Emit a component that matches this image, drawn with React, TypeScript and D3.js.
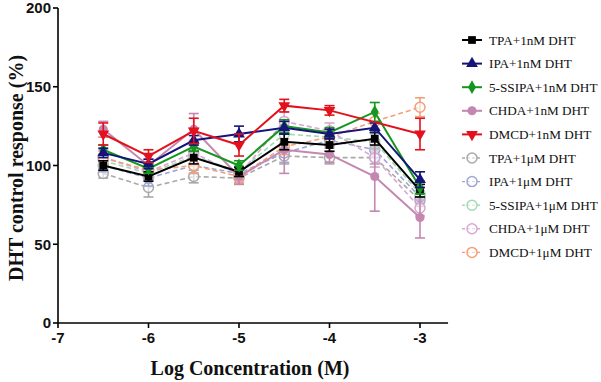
import React from "react";
import * as d3 from "d3";

const xVals = [-6.5, -6, -5.5, -5, -4.5, -4, -3.5, -3];
const xTicks = [-7, -6, -5, -4, -3];
const yTicks = [0, 50, 100, 150, 200];

const seriesNames = [
  "TPA+1nM DHT",
  "IPA+1nM DHT",
  "5-SSIPA+1nM DHT",
  "CHDA+1nM DHT",
  "DMCD+1nM DHT",
  "TPA+1\u03bcM DHT",
  "IPA+1\u03bcM DHT",
  "5-SSIPA+1\u03bcM DHT",
  "CHDA+1\u03bcM DHT",
  "DMCD+1\u03bcM DHT",
];

const tpa1n = [100, 93, 105, 96, 115, 113, 117, 84];
const ipa1n = [108, 101, 116, 120, 124, 120, 124, 91];
const sspa1n = [110, 98, 112, 100, 125, 121, 134, 86];
const chda1n = [123, 100, 123, 93, 110, 107, 93, 67];
const dmcd1n = [120, 106, 122, 113, 138, 135, null, 120];
const tpa1u = [95, 86, 93, 92, 106, 105, 105, 78];
const ipa1u = [100, 92, 100, 95, 108, 116, 110, 80];
const sspa1u = [103, 95, 106, 96, 120, 118, 115, 82];
const chda1u = [105, 96, 108, 94, 128, 122, 105, 73];
const dmcd1u = [105, 97, 100, 93, 112, 118, 128, 137];

const tpa1nErr = [3, 3, 4, 3, 5, 4, 4, 4];
const ipa1nErr = [3, 3, 3, 5, 4, 3, 3, 5];
const sspa1nErr = [3, 3, 3, 3, 4, 3, 6, 4];
const chda1nErr = [5, 4, 10, 5, 15, 5, 22, 13];
const dmcd1nErr = [7, 4, 8, 7, 4, 3, 0, 10];
const tpa1uErr = [3, 6, 4, 3, 5, 4, 4, 4];
const ipa1uErr = [4, 5, 5, 4, 6, 5, 5, 4];
const sspa1uErr = [4, 4, 5, 4, 5, 4, 5, 4];
const chda1uErr = [5, 5, 8, 5, 6, 5, 6, 5];
const dmcd1uErr = [4, 4, 5, 4, 5, 5, 5, 6];

const allValues = [tpa1n, ipa1n, sspa1n, chda1n, dmcd1n, tpa1u, ipa1u, sspa1u, chda1u, dmcd1u];
const allErrs = [tpa1nErr, ipa1nErr, sspa1nErr, chda1nErr, dmcd1nErr, tpa1uErr, ipa1uErr, sspa1uErr, chda1uErr, dmcd1uErr];
const colors = ["#000000", "#14147a", "#15961e", "#c487b0", "#e3111b", "#a9a9a9", "#9ea6d6", "#a6d9b2", "#d9a6d6", "#f2a07a"];
const shapes = ["square", "triangle", "diamond", "circle", "triangleDown", "open", "open", "open", "open", "open"];
const drawOrder = [5, 6, 7, 8, 9, 3, 0, 2, 1, 4];

function Marker({ shape, color, cx, cy }: { shape: string; color: string; cx: number; cy: number }) {
  const sym: Record<string, any> = {
    square: d3.symbolSquare,
    triangle: d3.symbolTriangle,
    diamond: d3.symbolDiamond,
    circle: d3.symbolCircle,
    triangleDown: d3.symbolTriangle,
  };
  if (shape === "open") {
    return <circle cx={cx} cy={cy} r={5} fill="white" fillOpacity={0.6} stroke={color} strokeWidth={1.5} />;
  }
  const size = shape === "diamond" ? 55 : shape === "circle" ? 65 : 60;
  const p = d3.symbol().type(sym[shape]).size(size)();
  const rot = shape === "triangleDown" ? " rotate(180)" : "";
  return <path d={p || ""} transform={`translate(${cx},${cy})${rot}`} fill={color} />;
}

export default function App() {
  const W = 601, H = 382;
  const x = d3.scaleLinear().domain([-7, -3]).range([58, 420]);
  const y = d3.scaleLinear().domain([0, 200]).range([323, 8]);
  const xEnd = x(-2.69);

  const line = d3
    .line<[number, number | null]>()
    .defined((d) => d[1] !== null)
    .x((d) => x(d[0]))
    .y((d) => y(d[1] as number));

  const legendY = (i: number) => 40 + i * 23.6;

  return (
    <svg width={W} height={H} style={{ position: "absolute", left: 0, top: 0, background: "white" }}>
      {drawOrder.map((si) => {
        const vals = allValues[si];
        const errs = allErrs[si];
        const pts = xVals.map((xv, i) => [xv, vals[i]] as [number, number | null]).filter((d) => d[1] !== null);
        const dashed = si >= 5;
        const color = colors[si];
        return (
          <g key={si}>
            <path
              d={line(pts) || ""}
              fill="none"
              stroke={color}
              strokeWidth={dashed ? 1.6 : 2}
              strokeDasharray={dashed ? "5,3" : undefined}
            />
            {xVals.map((xv, i) => {
              const v = vals[i];
              if (v === null) return null;
              const e = errs[i];
              const cx = x(xv);
              return (
                <g key={i}>
                  {e > 0 && (
                    <g stroke={color} strokeWidth={1.6}>
                      <line x1={cx} x2={cx} y1={y(v - e)} y2={y(v + e)} />
                      <line x1={cx - 5} x2={cx + 5} y1={y(v + e)} y2={y(v + e)} />
                      <line x1={cx - 5} x2={cx + 5} y1={y(v - e)} y2={y(v - e)} />
                    </g>
                  )}
                  <Marker shape={shapes[si]} color={color} cx={cx} cy={y(v)} />
                </g>
              );
            })}
          </g>
        );
      })}

      <g>
        <line x1={58} x2={58} y1={y(200)} y2={y(0)} stroke="#000" strokeWidth={1.6} />
        {yTicks.map((t) => (
          <g key={t}>
            <line x1={53} x2={58} y1={y(t)} y2={y(t)} stroke="#000" strokeWidth={1.6} />
            <text
              x={51}
              y={y(t)}
              dy="0.36em"
              textAnchor="end"
              fontFamily="Liberation Sans, Arial, sans-serif"
              fontWeight="bold"
              fontSize={15}
              fill="#111"
            >
              {t}
            </text>
          </g>
        ))}
      </g>

      <g>
        <line x1={58} x2={xEnd} y1={y(0)} y2={y(0)} stroke="#000" strokeWidth={1.6} />
        {xTicks.map((t) => (
          <g key={t}>
            <line x1={x(t)} x2={x(t)} y1={y(0)} y2={y(0) + 5} stroke="#000" strokeWidth={1.6} />
            <text
              x={x(t)}
              y={y(0) + 20}
              textAnchor="middle"
              fontFamily="Liberation Sans, Arial, sans-serif"
              fontWeight="bold"
              fontSize={15}
              fill="#111"
            >
              {t}
            </text>
          </g>
        ))}
      </g>

      <text
        x={250}
        y={375}
        textAnchor="middle"
        fontFamily="Liberation Serif, Times New Roman, serif"
        fontWeight="bold"
        fontSize={20}
        fill="#111"
      >
        Log Concentration (M)
      </text>
      <text
        transform={`translate(23,168) rotate(-90)`}
        textAnchor="middle"
        fontFamily="Liberation Serif, Times New Roman, serif"
        fontWeight="bold"
        fontSize={20}
        fill="#111"
      >
        DHT control response (%)
      </text>

      {seriesNames.map((name, i) => {
        const ly = legendY(i);
        const dashed = i >= 5;
        return (
          <g key={name}>
            <line
              x1={462}
              x2={482}
              y1={ly}
              y2={ly}
              stroke={colors[i]}
              strokeWidth={dashed ? 1.4 : 2}
              strokeDasharray={dashed ? "3,2" : undefined}
            />
            <Marker shape={shapes[i]} color={colors[i]} cx={472} cy={ly} />
            <text
              x={489}
              y={ly}
              dy="0.35em"
              fontFamily="Liberation Serif, Times New Roman, serif"
              fontSize={13.2}
              fill="#111"
            >
              {name}
            </text>
          </g>
        );
      })}
    </svg>
  );
}
